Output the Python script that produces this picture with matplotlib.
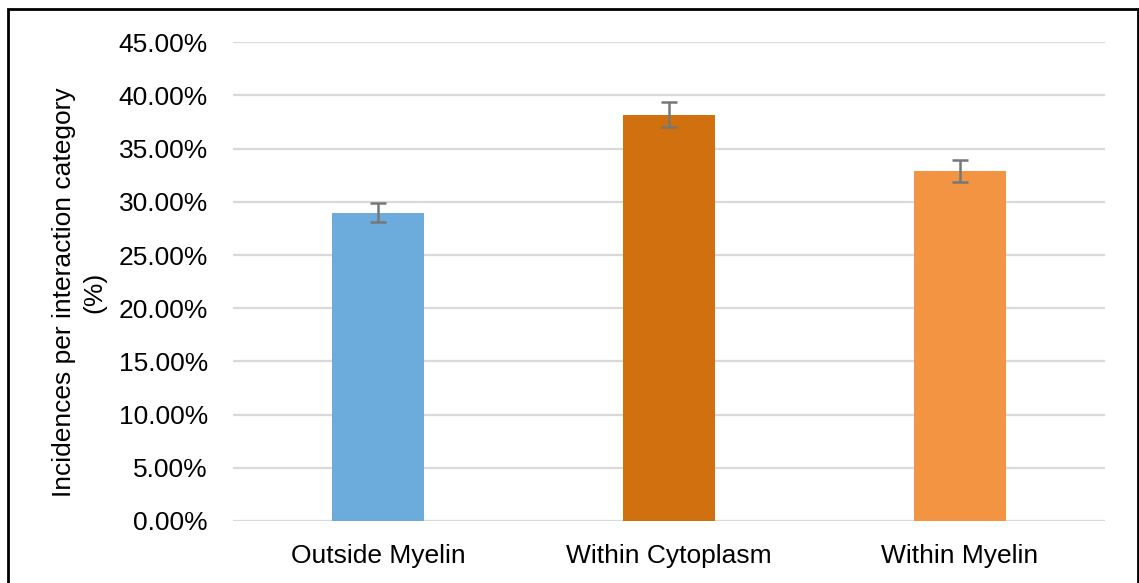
import matplotlib
matplotlib.use("Agg")
import matplotlib.pyplot as plt
from matplotlib.patches import Rectangle
from matplotlib.ticker import PercentFormatter

categories = ["Outside Myelin", "Within Cytoplasm", "Within Myelin"]
values = [0.290, 0.382, 0.329]
errors = [0.009, 0.012, 0.010]
colors = ["#6CACDD", "#D0700F", "#F29441"]
yticks = [0.0, 0.05, 0.10, 0.15, 0.20, 0.25, 0.30, 0.35, 0.40, 0.45]

plt.rcParams['font.family'] = ['Liberation Sans', 'DejaVu Sans']

fig = plt.figure(figsize=(11.39, 5.83), dpi=100)
ax = fig.add_axes([233/1139, 1-521/583, (1105-233)/1139, (521-42.3)/583])

x = list(range(len(categories)))
ax.bar(x, values, width=0.316, color=colors, zorder=3)
ax.errorbar(x, values, yerr=errors, fmt='none', ecolor='#777777',
            elinewidth=1.8, capsize=5.8, capthick=1.8, zorder=4)

ax.set_xlim(-0.5, 2.5)
ax.set_ylim(0, 0.45)
ax.set_yticks(yticks)
ax.yaxis.set_major_formatter(PercentFormatter(1.0, decimals=2))
ax.set_xticks(x)
ax.set_xticklabels(categories)
ax.tick_params(axis='both', length=0, labelsize=19, colors='black')
ax.tick_params(axis='y', pad=18)
ax.tick_params(axis='x', pad=16.5)
ax.grid(axis='y', color='#D9D9D9', linewidth=1.6, zorder=0)
for s in ax.spines.values():
    s.set_visible(False)
ax.set_ylabel("Incidences per interaction category\n(%)", fontsize=19, labelpad=9,
              linespacing=1.3)
ax.yaxis.label.set_y(0.477)

fig.patches.append(Rectangle((7.5/1139, -0.05), (1137.5-7.5)/1139, 1.05 - 8.5/583,
                             transform=fig.transFigure, fill=False,
                             edgecolor='black', linewidth=2, clip_on=False))

fig.savefig("out.png", dpi=100)
